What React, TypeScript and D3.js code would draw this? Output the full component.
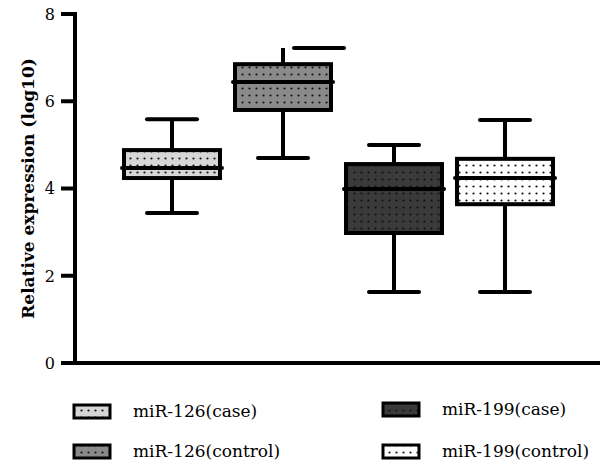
import React from "react";
import { scaleLinear, scalePoint } from "d3";

// box plot values (log10 relative expression)
const categories = ["miR-126(case)", "miR-126(control)", "miR-199(case)", "miR-199(control)"];
const whiskerLow = [3.44, 4.7, 1.63, 1.63];
const q1 = [4.24, 5.8, 2.98, 3.64];
const median = [4.47, 6.44, 3.99, 4.24];
const q3 = [4.88, 6.85, 4.56, 4.68];
const whiskerHigh = [5.59, 7.22, 5.0, 5.57];
const fills = ["#d6d6d6", "#8a8a8a", "#3a3a3a", "#ffffff"];
const yTicks = [0, 2, 4, 6, 8];

const W = 605;
const H = 467;
const FONT = "'DejaVu Serif', 'Liberation Serif', serif";

const App = () => {
  const y = scaleLinear().domain([0, 8]).range([363, 14]);
  const x = scalePoint<string>().domain(categories).range([172, 505]);
  const boxW = 96;
  const capW = 50;
  const sw = 4;

  // legend layout: two columns, two rows
  const legendCol = [74, 383];
  const legendRow = [[411, 451], [409, 451]];

  return (
    <svg
      width={W}
      height={H}
      style={{ position: "absolute", left: 0, top: 0, background: "#fff" }}
    >
      <defs>
        {fills.map((f, i) => (
          <pattern key={i} id={"dots" + i} width={7} height={7} patternUnits="userSpaceOnUse" x={1} y={1}>
            <rect width={7} height={7} fill={f} />
            <circle cx={3.5} cy={3.5} r={1.1} fill="#111" />
          </pattern>
        ))}
      </defs>

      {/* y axis */}
      <line x1={75} x2={75} y1={y(8) - 2} y2={y(0) + 2} stroke="#000" strokeWidth={sw} />
      {yTicks.map(t => (
        <g key={t}>
          <line x1={61} x2={75} y1={y(t)} y2={y(t)} stroke="#000" strokeWidth={sw} />
          <text x={55} y={y(t)} dy="0.36em" textAnchor="end" fontFamily={FONT} fontSize={16}>
            {t}
          </text>
        </g>
      ))}
      <text
        transform={`translate(28,${(y(0) + y(8)) / 2}) rotate(-90)`}
        textAnchor="middle"
        dy="0.35em"
        fontFamily={FONT}
        fontWeight="bold"
        fontSize={17}
      >
        Relative expression (log10)
      </text>

      {/* x axis */}
      <line x1={73} x2={600} y1={y(0)} y2={y(0)} stroke="#000" strokeWidth={sw} />

      {/* boxes */}
      {categories.map((c, i) => {
        const cx = x(c) as number;
        // the top cap of the second box is drawn shifted to the right in the source
        const capShift = i === 1 ? 36 : 0;
        return (
          <g key={c} stroke="#000" strokeWidth={sw}>
            <line x1={cx} x2={cx} y1={y(whiskerHigh[i])} y2={y(q3[i])} />
            <line x1={cx} x2={cx} y1={y(q1[i])} y2={y(whiskerLow[i])} />
            <line
              x1={cx - capW / 2 + capShift}
              x2={cx + capW / 2 + capShift}
              y1={y(whiskerHigh[i])}
              y2={y(whiskerHigh[i])}
              strokeLinecap="round"
            />
            <line
              x1={cx - capW / 2}
              x2={cx + capW / 2}
              y1={y(whiskerLow[i])}
              y2={y(whiskerLow[i])}
              strokeLinecap="round"
            />
            <rect
              x={cx - boxW / 2}
              y={y(q3[i])}
              width={boxW}
              height={y(q1[i]) - y(q3[i])}
              fill={`url(#dots${i})`}
            />
            <line
              x1={cx - boxW / 2 - 2}
              x2={cx + boxW / 2 + 2}
              y1={y(median[i])}
              y2={y(median[i])}
              strokeLinecap="round"
            />
          </g>
        );
      })}

      {/* legend */}
      {categories.map((c, k) => {
        const col = Math.floor(k / 2);
        const row = k % 2;
        const lx = legendCol[col];
        const ly = legendRow[col][row];
        return (
          <g key={c}>
            <rect
              x={lx}
              y={ly - 6}
              width={36}
              height={13}
              fill={`url(#dots${k})`}
              stroke="#000"
              strokeWidth={3}
            />
            <text x={lx + 59} y={ly} dy="0.35em" fontFamily={FONT} fontSize={17}>
              {c}
            </text>
          </g>
        );
      })}
    </svg>
  );
};

export default App;
